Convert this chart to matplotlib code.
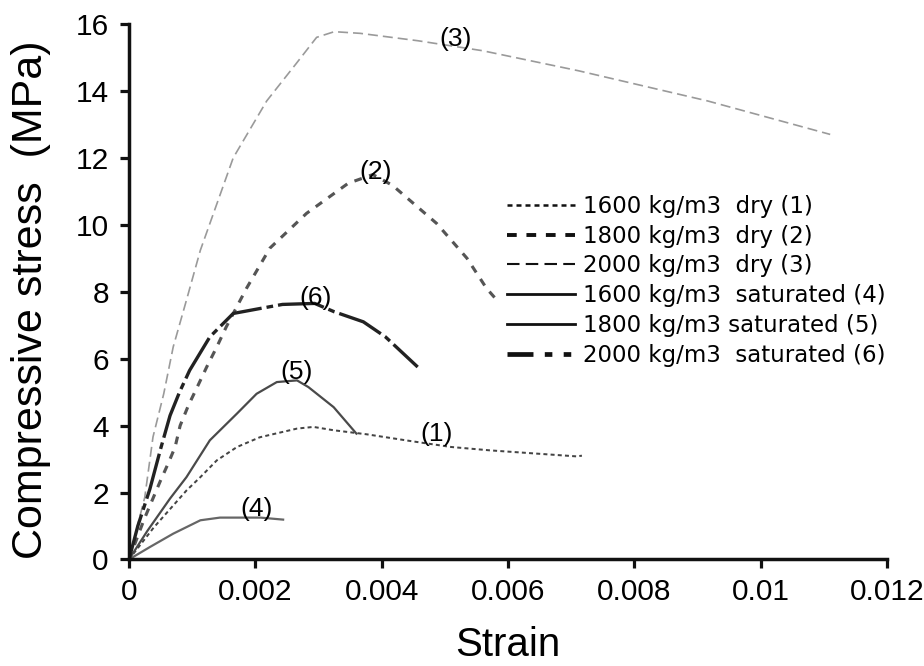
import matplotlib
matplotlib.use('Agg')
import matplotlib.pyplot as plt
from matplotlib.lines import Line2D

# stress-strain curves, strain (-) vs compressive stress (MPa)
strain_1 = [0, 0.00039, 0.00091, 0.00113, 0.00139, 0.00171, 0.00207, 0.00266, 0.00292,
            0.00324, 0.00376, 0.00445, 0.0051, 0.00571, 0.00708, 0.00717]
stress_1 = [0, 0.95, 2.06, 2.46, 2.96, 3.36, 3.65, 3.91, 3.96,
            3.86, 3.74, 3.54, 3.36, 3.26, 3.08, 3.1]

strain_2 = [0, 0.00024, 0.0005, 0.00063, 0.00073, 0.00081, 0.00094, 0.00108, 0.00123,
            0.00139, 0.00154, 0.00186, 0.00223, 0.00281, 0.00347, 0.00386, 0.00417,
            0.00487, 0.00535, 0.00566, 0.0058]
stress_2 = [0, 1.2, 2.36, 2.91, 3.36, 4.0, 4.6, 5.15, 5.75,
            6.35, 6.95, 8.1, 9.3, 10.34, 11.24, 11.5, 11.18,
            10.04, 9.0, 8.1, 7.8]

strain_3 = [0, 0.00025, 0.00038, 0.00055, 0.0007, 0.00091, 0.00113, 0.00165, 0.00218,
            0.00264, 0.00297, 0.00325, 0.00366, 0.00457, 0.0056, 0.00712, 0.00916, 0.0111]
stress_3 = [0, 1.86, 3.66, 4.95, 6.35, 7.75, 9.24, 12.0, 13.7,
            14.8, 15.6, 15.77, 15.72, 15.5, 15.2, 14.6, 13.7, 12.7]

strain_4 = [0, 0.00033, 0.0007, 0.00113, 0.00144, 0.00208, 0.00244]
stress_4 = [0, 0.37, 0.77, 1.17, 1.25, 1.25, 1.19]

strain_5 = [0, 0.00029, 0.00065, 0.00091, 0.00128, 0.00171, 0.00202, 0.00234, 0.00266,
            0.00284, 0.00324, 0.0036]
stress_5 = [0, 0.85, 1.82, 2.46, 3.56, 4.36, 4.95, 5.3, 5.35,
            5.15, 4.55, 3.76]

strain_6 = [0, 0.00014, 0.00033, 0.0005, 0.00065, 0.0008, 0.00096, 0.00128, 0.00165,
            0.00208, 0.00243, 0.00294, 0.00325, 0.00371, 0.00406, 0.00457]
stress_6 = [0, 1.0, 2.1, 3.3, 4.3, 5.0, 5.65, 6.65, 7.35,
            7.5, 7.62, 7.65, 7.4, 7.1, 6.65, 5.75]

labels = ['1600 kg/m3  dry (1)', '1800 kg/m3  dry (2)', '2000 kg/m3  dry (3)',
          '1600 kg/m3  saturated (4)', '1800 kg/m3 saturated (5)', '2000 kg/m3  saturated (6)']
tags = ['(1)', '(2)', '(3)', '(4)', '(5)', '(6)']
tag_x = [0.00487, 0.00391, 0.00517, 0.00202, 0.00266, 0.00296]
tag_y = [3.76, 11.58, 15.54, 1.52, 5.6, 7.8]

xticks = [0, 0.002, 0.004, 0.006, 0.008, 0.01, 0.012]
xticklabels = ['0', '0.002', '0.004', '0.006', '0.008', '0.01', '0.012']
yticks = [0, 2, 4, 6, 8, 10, 12, 14, 16]

plt.rcParams['font.family'] = ['Liberation Sans', 'DejaVu Sans']

fig = plt.figure(figsize=(9.24, 6.66), dpi=100)
fig.subplots_adjust(left=0.1396, right=0.96, bottom=0.16, top=0.964)
ax = fig.add_subplot(111)

# line width and dash pattern of each series (legend keys)
styles = [
    dict(lw=1.8, dashes=(2, 1.6)),
    dict(lw=2.8, dashes=(2.5, 2.5)),
    dict(lw=1.5, dashes=(6, 3)),
    dict(lw=2.0, dashes=()),
    dict(lw=2.0, dashes=()),
    dict(lw=3.4, dashes=(5.5, 2.4, 1.6, 2.4, 1.6, 2.4)),
]
plot_colors = ['#444444', '#555555', '#9a9a9a', '#666666', '#4a4a4a', '#222222']

curves = [(strain_1, stress_1), (strain_2, stress_2), (strain_3, stress_3),
          (strain_4, stress_4), (strain_5, stress_5), (strain_6, stress_6)]

for i, (sx, sy) in enumerate(curves):
    st = styles[i]
    if i == 5:
        ln, = ax.plot(sx, sy, color=plot_colors[i], lw=2.4)
        ln.set_dashes((14, 1.5, 2, 1.5))
    else:
        ln, = ax.plot(sx, sy, color=plot_colors[i], lw=st['lw'] * 0.8)
        if st['dashes']:
            ln.set_dashes(st['dashes'])

for t, x, y in zip(tags, tag_x, tag_y):
    ax.text(x, y, t, fontsize=19, ha='center', va='center')

handles = []
for st in styles:
    h = Line2D([0], [0], color='#111111', lw=st['lw'])
    if st['dashes']:
        h.set_dashes(st['dashes'])
    handles.append(h)

ax.legend(handles, labels, loc='upper left', bbox_to_anchor=(0.00598, 10.9),
          bbox_transform=ax.transData, frameon=False,
          prop={'family': 'DejaVu Sans', 'size': 16.5},
          handlelength=2.97, handletextpad=0.35, labelspacing=0.30,
          borderpad=0, borderaxespad=0)

ax.set_xlim(0, 0.012)
ax.set_ylim(0, 16)
ax.set_xticks(xticks)
ax.set_xticklabels(xticklabels)
ax.set_yticks(yticks)

for side in ['top', 'right']:
    ax.spines[side].set_visible(False)
for side in ['left', 'bottom']:
    ax.spines[side].set_linewidth(2.5)
    ax.spines[side].set_color('#111111')

ax.tick_params(direction='out', length=6.5, width=2.3, color='#111111',
               labelsize=21.5)
ax.tick_params(axis='x', pad=7)
ax.tick_params(axis='y', pad=8)

ax.set_xlabel('Strain', fontsize=29)
ax.set_ylabel('Compressive stress  (MPa)', fontsize=31)
ax.xaxis.set_label_coords(0.5, -0.124)
ax.yaxis.set_label_coords(-0.103, 0.485)

fig.savefig('out.png', dpi=100)
